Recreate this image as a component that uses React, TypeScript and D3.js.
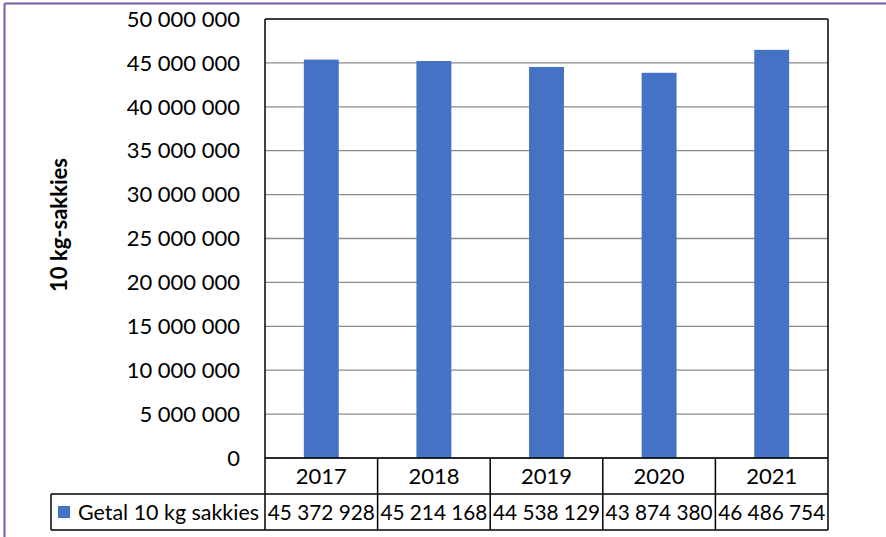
import React from 'react';
import * as d3 from 'd3';

const years = ['2017', '2018', '2019', '2020', '2021'];
const values = [45372928, 45214168, 44538129, 43874380, 46486754];
const seriesName = 'Getal 10 kg sakkies';
const yTicks = [0, 5000000, 10000000, 15000000, 20000000, 25000000, 30000000, 35000000, 40000000, 45000000, 50000000];

const W = 886;
const H = 537;
const plot = { left: 265, right: 828, top: 19, bottom: 458 };
const rowH = 36;
const legendLeft = 51;
const font = 'Lato, "Open Sans", sans-serif';
const fs = 22;
const barColor = '#4472C4';

const fmt = (v: number) => d3.format(',')(v).replace(/,/g, ' ');

const App: React.FC = () => {
  const x = d3.scaleBand<string>()
    .domain(years)
    .range([plot.left, plot.right])
    .paddingInner(0.69)
    .paddingOuter(0.345);
  const xCell = d3.scaleBand<string>().domain(years).range([plot.left, plot.right]);
  const y = d3.scaleLinear().domain([0, 50000000]).range([plot.bottom, plot.top]);

  return (
    <svg width={W} height={H} style={{ position: 'absolute', left: 0, top: 0, background: '#fff' }}>
      <rect x={0} y={0} width={W} height={H} fill="#fff" />
      {/* outer frame */}
      <line x1={4.5} y1={3.5} x2={4.5} y2={H} stroke="#7b5aa6" strokeWidth={2} />
      <line x1={4.5} y1={3.5} x2={W} y2={3.5} stroke="#7b5aa6" strokeWidth={2} />

      {/* gridlines */}
      {yTicks.map(t => (
        <line key={t} x1={plot.left} x2={plot.right} y1={y(t)} y2={y(t)}
          stroke={t === 50000000 ? '#000' : '#8c8c8c'} strokeWidth={t === 50000000 ? 1.5 : 1.3} />
      ))}
      {yTicks.map(t => (
        <text key={'l' + t} x={240} y={y(t)} dy="0.35em" textAnchor="end"
          fontFamily={font} fontSize={fs} fill="#000">{fmt(t)}</text>
      ))}

      {/* bars */}
      {values.map((v, i) => (
        <rect key={years[i]} x={x(years[i])} y={y(v)} width={x.bandwidth()} height={plot.bottom - y(v)} fill={barColor} />
      ))}

      {/* plot border */}
      <line x1={plot.left} x2={plot.left} y1={plot.top} y2={plot.bottom} stroke="#000" strokeWidth={1.5} />
      <line x1={plot.right} x2={plot.right} y1={plot.top} y2={plot.bottom + rowH * 2} stroke="#000" strokeWidth={1.5} />

      {/* data table */}
      <line x1={plot.left} x2={plot.right} y1={plot.bottom} y2={plot.bottom} stroke="#000" strokeWidth={1.5} />
      <line x1={legendLeft} x2={plot.right} y1={plot.bottom + rowH} y2={plot.bottom + rowH} stroke="#000" strokeWidth={1.5} />
      <line x1={legendLeft} x2={plot.right} y1={plot.bottom + rowH * 2} y2={plot.bottom + rowH * 2} stroke="#000" strokeWidth={1.5} />
      <line x1={legendLeft} x2={legendLeft} y1={plot.bottom + rowH} y2={plot.bottom + rowH * 2} stroke="#000" strokeWidth={1.5} />
      {years.map(yr => (
        <line key={'c' + yr} x1={xCell(yr)} x2={xCell(yr)} y1={plot.bottom} y2={plot.bottom + rowH * 2} stroke="#000" strokeWidth={1.5} />
      ))}
      {years.map((yr, i) => (
        <g key={'t' + yr}>
          <text x={(xCell(yr) as number) + xCell.bandwidth() / 2} y={plot.bottom + rowH / 2} dy="0.35em"
            textAnchor="middle" fontFamily={font} fontSize={fs}>{yr}</text>
          <text x={(xCell(yr) as number) + xCell.bandwidth() / 2} y={plot.bottom + rowH * 1.5} dy="0.35em"
            textAnchor="middle" fontFamily={font} fontSize={fs} textLength={107} lengthAdjust="spacingAndGlyphs">{fmt(values[i])}</text>
        </g>
      ))}
      <rect x={58} y={plot.bottom + rowH * 1.5 - 6} width={12} height={12} fill={barColor} />
      <text x={78} y={plot.bottom + rowH * 1.5} dy="0.35em" fontFamily={font} fontSize={fs}
        textLength={181} lengthAdjust="spacingAndGlyphs">{seriesName}</text>

      {/* y axis title */}
      <text transform={`translate(67,225) rotate(-90)`} textAnchor="middle" fontFamily={font}
        fontSize={fs} fontWeight="bold">10 kg-sakkies</text>
    </svg>
  );
};

export default App;
